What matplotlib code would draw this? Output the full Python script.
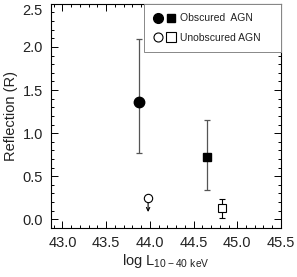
import matplotlib
matplotlib.use("Agg")
import matplotlib.pyplot as plt
from matplotlib.lines import Line2D
from matplotlib.legend_handler import HandlerTuple
from matplotlib.ticker import MultipleLocator

# obscured AGN: circle and square points with errors
obs_logl = [43.88, 44.65]
obs_r = [1.36, 0.72]
obs_err_lo = [0.59, 0.38]
obs_err_hi = [0.73, 0.43]
obs_marker = ["o", "s"]

# unobscured AGN: upper limit (circle) and detection (square)
unobs_lim_logl = 43.98
unobs_lim_r = 0.245
unobs_lim_drop = 0.16
unobs_logl = 44.82
unobs_r = 0.13
unobs_err_lo = 0.11
unobs_err_hi = 0.11

xticks = [43.0, 43.5, 44.0, 44.5, 45.0, 45.5]
yticks = [0.0, 0.5, 1.0, 1.5, 2.0, 2.5]

plt.rcParams["font.family"] = ["Liberation Sans", "DejaVu Sans"]
fig = plt.figure(figsize=(2.97, 2.77), dpi=100)
ax = fig.add_axes([0.172, 0.177, 0.774, 0.809])

ecol = "#555555"
sizes = {"o": 7.5, "s": 6.0}
for x, y, lo, hi, m in zip(obs_logl, obs_r, obs_err_lo, obs_err_hi, obs_marker):
    ax.errorbar([x], [y], yerr=[[lo], [hi]], fmt=m, color="black", ms=sizes[m],
                ecolor=ecol, elinewidth=0.9, capsize=2.5, capthick=0.9, zorder=3)

ax.errorbar([unobs_logl], [unobs_r], yerr=[[unobs_err_lo], [unobs_err_hi]], fmt="s",
            mfc="white", mec="black", mew=0.8, ms=6.0, ecolor="black",
            elinewidth=0.8, capsize=2.5, capthick=0.8, zorder=3)
ax.annotate("", xy=(unobs_lim_logl, unobs_lim_r - unobs_lim_drop),
            xytext=(unobs_lim_logl, unobs_lim_r),
            arrowprops=dict(arrowstyle="->", color="black", lw=0.8,
                            mutation_scale=6, shrinkA=0, shrinkB=0))
ax.plot([unobs_lim_logl], [unobs_lim_r], "o", mfc="white", mec="black",
        mew=0.8, ms=6.0, zorder=4)

ax.set_xlim(42.87, 45.5)
ax.set_ylim(-0.1, 2.5)
ax.set_xticks(xticks)
ax.set_yticks(yticks)
ax.set_xticklabels([f"{t:.1f}" for t in xticks])
ax.set_yticklabels([f"{t:.1f}" for t in yticks])
ax.xaxis.set_minor_locator(MultipleLocator(0.1))
ax.yaxis.set_minor_locator(MultipleLocator(0.1))
ax.tick_params(which="both", direction="in", top=True, right=True,
               labelsize=10.5, width=0.7, pad=6, labelcolor="#222222")
ax.tick_params(which="major", length=5)
ax.tick_params(which="minor", length=2.5)
ax.get_yticklabels()[-1].set_va("top")  # keep the top label inside the figure
for s in ax.spines.values():
    s.set_linewidth(0.8)

ax.set_xlabel(r"log L$_{\mathregular{10-40\ keV}}$", fontsize=10.5, labelpad=1,
              color="#222222")
ax.set_ylabel("Reflection (R)", fontsize=10.5, labelpad=3, color="#222222")

h_obs = (Line2D([], [], ls="", marker="o", color="black", ms=7),
         Line2D([], [], ls="", marker="s", color="black", ms=5.5))
h_un = (Line2D([], [], ls="", marker="o", mfc="white", mec="black", ms=6.5, mew=0.8),
        Line2D([], [], ls="", marker="s", mfc="white", mec="black", ms=6.5, mew=0.8))
leg = ax.legend([h_obs, h_un], ["Obscured  AGN", "Unobscured AGN"],
                handler_map={tuple: HandlerTuple(ndivide=None, pad=0.3)},
                loc="upper right", bbox_to_anchor=(0.404, 0.78, 0.596, 0.22),
                mode="expand", fontsize=7.5,
                fancybox=False, framealpha=1, borderaxespad=0,
                handlelength=2.2, handletextpad=0.4, borderpad=0.9,
                labelspacing=0.9)
leg.get_frame().set_edgecolor("#888888")
leg.get_frame().set_linewidth(0.7)
for t in leg.get_texts():
    t.set_color("#222222")

fig.savefig("out.png", dpi=100)
